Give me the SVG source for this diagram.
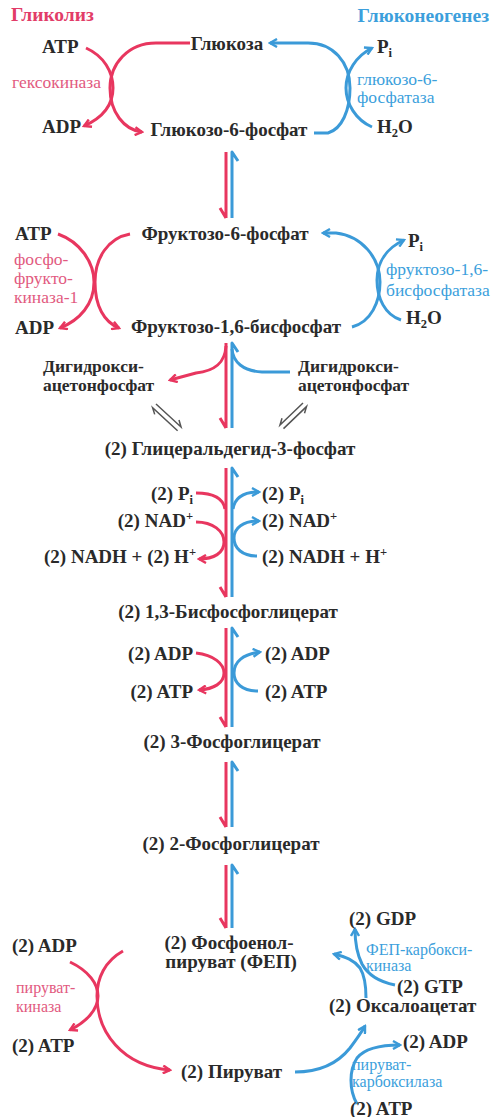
<svg xmlns="http://www.w3.org/2000/svg" width="493" height="1117" viewBox="0 0 493 1117">
<style>
text{font-family:'Liberation Serif','Times New Roman',Tinos,'DejaVu Serif',serif}
.t{font-size:19px;font-weight:bold;fill:#2a2a2a}
.m{text-anchor:middle}
.e{text-anchor:end}
.s{font-size:12.5px}
.d{font-size:17.5px}
.ep{font-size:17.5px;fill:#e25a80}
.eb{font-size:17.5px;fill:#3c9fdc}
.sm{font-size:16px}
.tr{font-size:19.5px;font-weight:bold;fill:#e23c68}
.tb{font-size:19.5px;font-weight:bold;fill:#3c9fdc}
.r{fill:none;stroke:#e8365f;stroke-width:3;stroke-linejoin:round}
.b{fill:none;stroke:#3b9ad8;stroke-width:3;stroke-linejoin:round}
.ra{marker-end:url(#ar)}
.ba{marker-end:url(#ab)}
.q{fill:none;stroke:#555;stroke-width:1.5}
</style>
<defs>
<marker id="ar" viewBox="0 0 10 10" refX="8" refY="5" markerWidth="10" markerHeight="10" markerUnits="userSpaceOnUse" orient="auto"><path d="M1,1 L8,5 L1,9" fill="none" stroke="#e8365f" stroke-width="2.4"/></marker>
<marker id="ab" viewBox="0 0 10 10" refX="8" refY="5" markerWidth="10" markerHeight="10" markerUnits="userSpaceOnUse" orient="auto"><path d="M1,1 L8,5 L1,9" fill="none" stroke="#3b9ad8" stroke-width="2.4"/></marker>
</defs>
<rect width="493" height="1117" fill="#ffffff"/>

<g id="titles">
<text class="tr" x="11" y="21">Гликолиз</text>
<text class="tb" x="489" y="22" text-anchor="end">Глюконеогенез</text>
</g>

<g id="connectors">
<path class="r ra" d="M190,43 H156 C128,43 110,64 110,88 C110,112 124,130 142,132"/>
<path class="r ra" d="M86,48 C104,56 113,72 113,88 C113,105 102,118 84,126"/>
<path class="b ba" d="M314,133 H328 C342,129 350,110 350,88 C350,62 333,43 308,43 H270"/>
<path class="b ba" d="M372,127 C356,120 346,104 346,88 C346,72 356,56 372,48"/>
<path class="r" d="M226,152 V218 M220,208 L226,218"/>
<path class="b" d="M232,218 V152 L238,161"/>
<path class="r ra" d="M130,234 C108,238 95,258 95,282 C95,306 104,322 119,328"/>
<path class="r ra" d="M58,234 C80,242 94,262 94,282 C94,304 80,320 60,328"/>
<path class="b ba" d="M352,327 C371,322 380,302 380,282 C380,258 362,236 336,233 H323"/>
<path class="b ba" d="M401,320 C385,315 377,298 377,280 C377,262 387,248 404,240"/>
<path class="r" d="M226,343 V428 M220,418 L226,428"/>
<path class="r ra" d="M226,346 C225,363 215,371 196,373 L170,380"/>
<path class="b" d="M232,428 V343 L238,352"/>
<path class="b" d="M290,372 H262 C243,371 233,362 232,349"/>
<path class="q" d="M156,404 L181,427 L179,420"/>
<path class="q" d="M177.6,430.7 L152.6,407.7 L154.7,414.4"/>
<path class="q" d="M303,403 L280,425 L282,418.3"/>
<path class="q" d="M283.5,428.6 L306.5,406.6 L304.5,413.3"/>
<path class="r" d="M226,468 V597 M220,587 L226,597"/>
<path class="b" d="M232,597 V468 L238,477"/>
<path class="r" d="M196,493 C211,493 223,497 225,509"/>
<path class="r ra" d="M196,522 C213,522 224,531 224,542 C224,553 214,559 199,559"/>
<path class="b ba" d="M233,509 C235,497 244,492 259,492"/>
<path class="b ba" d="M257,556 C242,556 234,548 234,538 C234,528 243,521 259,521"/>
<path class="r" d="M226,628 V727 M220,717 L226,727"/>
<path class="b" d="M232,727 V628 L238,637"/>
<path class="r ra" d="M196,653 C214,655 224,664 224,673 C224,683 214,689 199,690"/>
<path class="b ba" d="M258,691 C242,691 234,683 234,673 C234,662 243,654 260,652"/>
<path class="r" d="M226,762 V827 M220,817 L226,827"/>
<path class="b" d="M232,827 V762 L238,771"/>
<path class="r" d="M226,865 V928 M220,918 L226,928"/>
<path class="b" d="M232,928 V865 L238,874"/>
<path class="r ra" d="M70,962 C89,971 98,984 98,996 C98,1010 86,1022 70,1030"/>
<path class="r ra" d="M123,951 C105,961 97,978 97,996 C97,1032 122,1066 170,1070"/>
<path class="b ba" d="M295,1072 C320,1072 338,1063 350,1048 C356,1040 361,1033 365,1026"/>
<path class="b ba" d="M357,1104 C349,1090 349,1070 357,1058 C365,1048 380,1045 400,1045"/>
<path class="b ba" d="M366,998 C366,986 365,976 360,968 C354,960 346,957 334,954"/>
<path class="b ba" d="M395,985 C380,982 368,975 362,964 C357,954 355,944 355,929"/>
</g>

<g id="glucose"><text class="t m" x="227" y="50">Глюкоза</text></g>
<g id="hexokinase-atp"><text class="t" x="42" y="53">ATP</text></g>
<g id="hexokinase-adp"><text class="t" x="42" y="133">ADP</text></g>
<g id="hexokinase"><text class="ep" x="12" y="88">гексокиназа</text></g>
<g id="g6p"><text class="t m" x="229" y="136">Глюкозо-6-фосфат</text></g>
<g id="g6pase-pi"><text class="t" x="377" y="53">P<tspan class="s" dy="4">i</tspan></text></g>
<g id="g6pase-h2o"><text class="t" x="377" y="133">H<tspan class="s" dy="4">2</tspan><tspan dy="-4">O</tspan></text></g>
<g id="g6pase"><text class="eb" x="357" y="85">глюкозо-6-</text><text class="eb" x="357" y="103">фосфатаза</text></g>

<g id="f6p"><text class="t m" x="225" y="240">Фруктозо-6-фосфат</text></g>
<g id="pfk-atp"><text class="t" x="15" y="240">ATP</text></g>
<g id="pfk-adp"><text class="t" x="15" y="334">ADP</text></g>
<g id="pfk"><text class="ep" x="14" y="265">фосфо-</text><text class="ep" x="14" y="284">фрукто-</text><text class="ep" x="14" y="303">киназа-1</text></g>
<g id="f16bp"><text class="t m" x="236" y="333">Фруктозо-1,6-бисфосфат</text></g>
<g id="fbpase-pi"><text class="t" x="408" y="247">P<tspan class="s" dy="4">i</tspan></text></g>
<g id="fbpase-h2o"><text class="t" x="406" y="324">H<tspan class="s" dy="4">2</tspan><tspan dy="-4">O</tspan></text></g>
<g id="fbpase"><text class="eb" x="386" y="275">фруктозо-1,6-</text><text class="eb" x="386" y="296">бисфосфатаза</text></g>

<g id="dhap-left"><text class="t d" x="43" y="372">Дигидрокси-</text><text class="t d" x="43" y="391">ацетонфосфат</text></g>
<g id="dhap-right"><text class="t d" x="298" y="372">Дигидрокси-</text><text class="t d" x="298" y="391">ацетонфосфат</text></g>
<g id="gap"><text class="t m" x="230" y="455">(2) Глицеральдегид-3-фосфат</text></g>

<g id="gapdh-pi-left"><text class="t e" x="193" y="500">(2) P<tspan class="s" dy="4">i</tspan></text></g>
<g id="gapdh-nad-left"><text class="t e" x="193" y="527">(2) NAD<tspan class="s" dy="-7">+</tspan></text></g>
<g id="gapdh-nadh-left"><text class="t e" x="196" y="563">(2) NADH + (2) H<tspan class="s" dy="-7">+</tspan></text></g>
<g id="gapdh-pi-right"><text class="t" x="262" y="500">(2) P<tspan class="s" dy="4">i</tspan></text></g>
<g id="gapdh-nad-right"><text class="t" x="262" y="527">(2) NAD<tspan class="s" dy="-7">+</tspan></text></g>
<g id="gapdh-nadh-right"><text class="t" x="262" y="563">(2) NADH + H<tspan class="s" dy="-7">+</tspan></text></g>
<g id="bpg13"><text class="t m" x="228" y="618">(2) 1,3-Бисфосфоглицерат</text></g>

<g id="pgk-adp-left"><text class="t e" x="193" y="660">(2) ADP</text></g>
<g id="pgk-atp-left"><text class="t e" x="193" y="698">(2) ATP</text></g>
<g id="pgk-adp-right"><text class="t" x="265" y="660">(2) ADP</text></g>
<g id="pgk-atp-right"><text class="t" x="265" y="698">(2) ATP</text></g>
<g id="pg3"><text class="t m" x="232" y="748">(2) 3-Фосфоглицерат</text></g>
<g id="pg2"><text class="t m" x="231" y="850">(2) 2-Фосфоглицерат</text></g>
<g id="pep"><text class="t m" x="229" y="949">(2) Фосфоенол-</text><text class="t m" x="231" y="968">пируват (ФЕП)</text></g>

<g id="pk-adp"><text class="t" x="12" y="952">(2) ADP</text></g>
<g id="pk-atp"><text class="t" x="12" y="1052">(2) ATP</text></g>
<g id="pk"><text class="ep sm" x="16" y="993">пируват-</text><text class="ep sm" x="16" y="1012">киназа</text></g>
<g id="pyruvate"><text class="t" x="181" y="1078">(2) Пируват</text></g>

<g id="pepck-gdp"><text class="t" x="349" y="925">(2) GDP</text></g>
<g id="pepck"><text class="eb sm" x="366" y="955">ФЕП-карбокси-</text><text class="eb sm" x="366" y="971">киназа</text></g>
<g id="pepck-gtp"><text class="t" x="397" y="993">(2) GTP</text></g>
<g id="oaa"><text class="t" x="329" y="1012">(2) Оксалоацетат</text></g>
<g id="pc-adp"><text class="t" x="403" y="1048">(2) ADP</text></g>
<g id="pc"><text class="eb sm" x="352" y="1070">пируват-</text><text class="eb sm" x="352" y="1087">карбоксилаза</text></g>
<g id="pc-atp"><text class="t" x="350" y="1115">(2) ATP</text></g>
</svg>
